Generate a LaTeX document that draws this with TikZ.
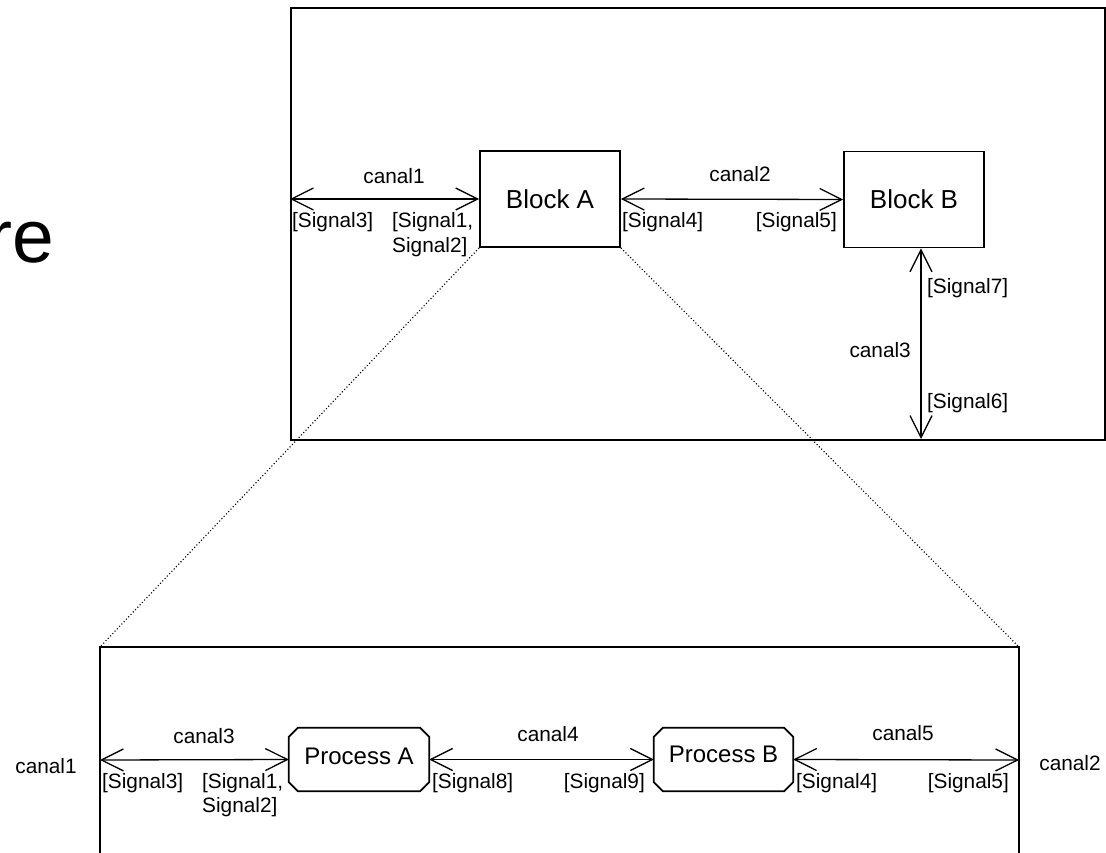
\documentclass[tikz,border=0pt]{standalone}
\usepackage{fontspec}
\setmainfont{Liberation Sans}
\usetikzlibrary{arrows.meta}

\begin{document}
\begin{tikzpicture}[x=1pt,y=-1pt,
  boxline/.style={line width=1.8pt},
  lbl/.style={inner sep=0pt,font=\fontsize{20.8}{24.5}\selectfont},
  block/.style={draw,boxline,inner sep=0pt,minimum width=140pt,minimum height=96pt,
    font=\fontsize{26}{30}\selectfont},
  procarea/.style={inner sep=0pt,minimum width=140pt,minimum height=63pt},
  proctext/.style={inner sep=0pt,font=\fontsize{24}{28}\selectfont},
  chan/.style={line width=1.3pt,{Straight Barb[length=22pt,width=22pt]}-{Straight Barb[length=22pt,width=22pt]}},
  zoomline/.style={line width=1.1pt,dash pattern=on 1.1pt off 2.2pt}]

\path[use as bounding box,clip] (0,0) rectangle (1106,853);

% large title fragment at the left edge
\node[inner sep=0pt,anchor=base east,font=\fontsize{75}{80}\selectfont] (title) at (54,262) {re};

% ---------- upper system: Block A and Block B ----------
\node[draw,boxline,anchor=north west,inner sep=0pt,minimum width=814pt,minimum height=432pt] (sys) at (290,7) {};
\node[block] (A) at (550,199) {Block A};
\node[block] (B) at (914,199.5) {Block B};

\coordinate (sysL) at (290,199);
\coordinate (sysB) at (921,439);

\draw[chan] (sysL) -- (A.west);
\draw[chan] (A.east) -- (B.west);
\draw[chan] (sysB) -- (sysB |- B.south);

\node[lbl,anchor=base] (c1) at (394,184) {canal1};
\node[lbl,anchor=base west] (s3) at (292,228) {[Signal3]};
\node[lbl,anchor=base west] (s12a) at (392,228) {[Signal1,};
\node[lbl,anchor=base west] (s12b) at (392,252.5) {Signal2]};

\node[lbl,anchor=base] (c2) at (740,182) {canal2};
\node[lbl,anchor=base west] (s4) at (622,228) {[Signal4]};
\node[lbl,anchor=base east] (s5) at (837,228) {[Signal5]};

\node[lbl,anchor=base west] (s7) at (927,293) {[Signal7]};
\node[lbl,anchor=base east] (c3) at (911,357) {canal3};
\node[lbl,anchor=base west] (s6) at (927,408) {[Signal6]};

% ---------- refinement of Block A ----------
\coordinate (fTL) at (100,647);
\coordinate (fTR) at (1019,647);
\coordinate (fBL) at (100,870);
\coordinate (fBR) at (1019,870);
\draw[boxline] (fBL) -- (fTL) -- (fTR) -- (fBR);

\draw[zoomline] (A.south west) -- (fTL);
\draw[zoomline] (A.south east) -- (fTR);

\node[procarea] (PA) at (359,759.5) {};
\node[procarea,minimum width=139pt] (PB) at (723.5,759.5) {};
\foreach \p in {PA,PB}{
  \draw[boxline]
    ([xshift=9pt]\p.north west) -- ([xshift=-9pt]\p.north east)
    -- ([yshift=-9pt]\p.north east) -- ([yshift=9pt]\p.south east)
    -- ([xshift=-9pt]\p.south east) -- ([xshift=9pt]\p.south west)
    -- ([yshift=9pt]\p.south west) -- ([yshift=-9pt]\p.north west) -- cycle;
}
\node[proctext,anchor=base] (PAt) at (359,764) {Process A};
\node[proctext,anchor=base] (PBt) at (723.5,762) {Process B};

\coordinate (fL) at (100,760);
\coordinate (fR) at (1019,760);
\draw[chan] (fL) -- (PA.west);
\draw[chan] (PA.east) -- (PB.west);
\draw[chan] (PB.east) -- (fR);

\node[lbl,anchor=base] (oc1) at (46,773) {canal1};
\node[lbl,anchor=base] (oc2) at (1070,770) {canal2};

\node[lbl,anchor=base] (c3b) at (204,743) {canal3};
\node[lbl,anchor=base west] (s3b) at (102,788) {[Signal3]};
\node[lbl,anchor=base west] (s12c) at (202,788) {[Signal1,};
\node[lbl,anchor=base west] (s12d) at (202,812.5) {Signal2]};

\node[lbl,anchor=base] (c4) at (548,741) {canal4};
\node[lbl,anchor=base west] (s8) at (432,788) {[Signal8]};
\node[lbl,anchor=base east] (s9) at (645,788) {[Signal9]};

\node[lbl,anchor=base] (c5) at (903,740) {canal5};
\node[lbl,anchor=base west] (s4b) at (796,788) {[Signal4]};
\node[lbl,anchor=base east] (s5b) at (1009,788) {[Signal5]};

\end{tikzpicture}
\end{document}
